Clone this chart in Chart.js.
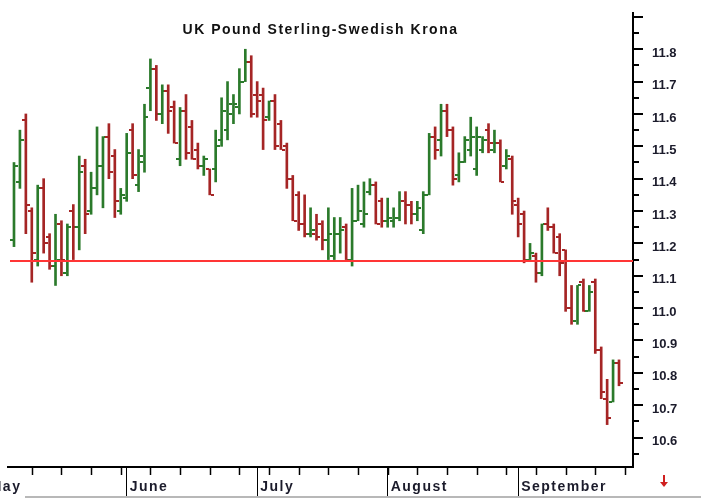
<!DOCTYPE html>
<html>
<head>
<meta charset="utf-8">
<script src="https://cdn.jsdelivr.net/npm/chart.js@4.4.1/dist/chart.umd.min.js"></script>
<style>
  html, body { margin: 0; padding: 0; background: #fff; }
  #wrap { width: 701px; height: 498px; }
</style>
</head>
<body>
<div id="wrap"><canvas id="fx" width="701" height="498"></canvas></div>
<script>
const chartTitle = 'UK Pound Sterling-Swedish Krona';

// daily OHLC, one entry per trading day
const opens = [
  11.21, 11.39, 11.58, 11.30, 11.15, 11.37, 11.22, 11.13, 11.26, 11.11,
  11.30, 11.25, 11.44, 11.30, 11.37, 11.44, 11.53, 11.47, 11.30, 11.34,
  11.55, 11.38, 11.45, 11.68, 11.74, 11.60, 11.67, 11.62, 11.46, 11.61,
  11.56, 11.49, 11.44, 11.43, 11.43, 11.52, 11.55, 11.60, 11.62, 11.70,
  11.76, 11.66, 11.66, 11.59, 11.64, 11.57, 11.50, 11.40, 11.35, 11.26,
  11.23, 11.23, 11.26, 11.21, 11.16, 11.23, 11.25, 11.15, 11.27, 11.26,
  11.36, 11.38, 11.33, 11.27, 11.27, 11.28, 11.33, 11.32, 11.29, 11.24,
  11.35, 11.53, 11.52, 11.61, 11.55, 11.41, 11.45, 11.49, 11.43, 11.49,
  11.55, 11.49, 11.51, 11.44, 11.46, 11.32, 11.29, 11.15, 11.16, 11.11,
  11.26, 11.25, 11.22, 11.18, 11.00, 10.96, 11.08, 10.99, 11.08, 10.87,
  10.72, 10.71, 10.83
];
const highs = [
  11.45, 11.55, 11.60, 11.31, 11.38, 11.40, 11.23, 11.29, 11.27, 11.26,
  11.32, 11.47, 11.46, 11.42, 11.56, 11.53, 11.57, 11.49, 11.37, 11.54,
  11.57, 11.49, 11.63, 11.77, 11.75, 11.69, 11.69, 11.64, 11.62, 11.66,
  11.58, 11.51, 11.47, 11.43, 11.55, 11.65, 11.70, 11.66, 11.74, 11.80,
  11.78, 11.70, 11.68, 11.64, 11.66, 11.58, 11.51, 11.41, 11.36, 11.35,
  11.31, 11.29, 11.27, 11.31, 11.28, 11.28, 11.26, 11.37, 11.38, 11.39,
  11.40, 11.39, 11.34, 11.34, 11.31, 11.36, 11.36, 11.33, 11.33, 11.36,
  11.54, 11.56, 11.63, 11.63, 11.56, 11.48, 11.53, 11.59, 11.56, 11.53,
  11.57, 11.55, 11.52, 11.49, 11.47, 11.34, 11.30, 11.20, 11.17, 11.26,
  11.31, 11.26, 11.23, 11.18, 11.07, 11.07, 11.09, 11.07, 11.09, 10.88,
  10.78, 10.84, 10.84
];
const lows = [
  11.19, 11.37, 11.23, 11.08, 11.13, 11.17, 11.12, 11.07, 11.10, 11.10,
  11.15, 11.18, 11.23, 11.29, 11.35, 11.31, 11.40, 11.28, 11.29, 11.33,
  11.40, 11.36, 11.42, 11.61, 11.58, 11.57, 11.54, 11.51, 11.44, 11.46,
  11.46, 11.43, 11.41, 11.35, 11.39, 11.50, 11.52, 11.57, 11.60, 11.70,
  11.59, 11.59, 11.49, 11.58, 11.49, 11.49, 11.37, 11.27, 11.24, 11.22,
  11.22, 11.21, 11.18, 11.15, 11.15, 11.17, 11.15, 11.13, 11.27, 11.25,
  11.35, 11.26, 11.25, 11.25, 11.25, 11.27, 11.26, 11.26, 11.27, 11.23,
  11.35, 11.46, 11.47, 11.53, 11.38, 11.39, 11.45, 11.47, 11.41, 11.48,
  11.48, 11.48, 11.39, 11.43, 11.29, 11.22, 11.14, 11.15, 11.08, 11.10,
  11.24, 11.17, 11.10, 10.99, 10.95, 10.95, 10.99, 10.99, 10.86, 10.72,
  10.64, 10.71, 10.76
];
const closes = [
  11.44, 11.52, 11.32, 11.17, 11.37, 11.20, 11.13, 11.15, 11.15, 11.25,
  11.25, 11.42, 11.29, 11.37, 11.44, 11.53, 11.42, 11.33, 11.35, 11.48,
  11.41, 11.47, 11.59, 11.74, 11.60, 11.67, 11.61, 11.51, 11.61, 11.48,
  11.46, 11.44, 11.46, 11.35, 11.50, 11.61, 11.63, 11.63, 11.70, 11.76,
  11.60, 11.64, 11.58, 11.64, 11.50, 11.49, 11.40, 11.27, 11.26, 11.23,
  11.24, 11.22, 11.21, 11.23, 11.23, 11.24, 11.15, 11.27, 11.30, 11.29,
  11.38, 11.26, 11.27, 11.28, 11.28, 11.33, 11.32, 11.29, 11.31, 11.35,
  11.53, 11.49, 11.61, 11.55, 11.40, 11.45, 11.52, 11.53, 11.53, 11.52,
  11.51, 11.51, 11.39, 11.47, 11.33, 11.26, 11.15, 11.17, 11.11, 11.26,
  11.25, 11.17, 11.14, 11.00, 10.96, 11.07, 10.99, 11.05, 10.87, 10.74,
  10.66, 10.83, 10.77
];

const refLevel = 11.145;

// month label positions, in trading-day index
const monthNames = ['May', 'June', 'July', 'August', 'September'];
const monthStarts = [-4.6, 19, 41, 63, 85];

const GREEN = '#2b7a2b';
const RED = '#a52525';
const INK = '#1b1b2b';

const idx = opens.map((_, i) => i);
const up = idx.map(i => closes[i] >= opens[i]);

const ohlcTicks = {
  id: 'ohlcTicks',
  beforeDatasetsDraw(chart) {
    chart.ctx.letterSpacing = '0px';
  },
  afterDatasetsDraw(chart) {
    const { ctx, chartArea, scales: { x, y } } = chart;
    ctx.save();
    idx.forEach(i => {
      const px = Math.round(x.getPixelForValue(i));
      ctx.fillStyle = up[i] ? GREEN : RED;
      ctx.fillRect(px - 4, Math.round(y.getPixelForValue(opens[i])) - 1, 3, 2);
      ctx.fillRect(px + 1, Math.round(y.getPixelForValue(closes[i])) - 1, 3, 2);
    });
    // horizontal reference line
    const ly = Math.round(y.getPixelForValue(refLevel));
    ctx.strokeStyle = '#ff3535';
    ctx.lineWidth = 2;
    ctx.beginPath();
    ctx.moveTo(chartArea.left + 2, ly);
    ctx.lineTo(chartArea.right, ly);
    ctx.stroke();
    ctx.restore();
    // month labels (x ticks drawn after the datasets) get wider spacing
    ctx.letterSpacing = '1.5px';
  }
};

const decor = {
  id: 'decor',
  afterDraw(chart) {
    const { ctx, chartArea, scales: { x, y } } = chart;
    ctx.save();
    // title
    ctx.letterSpacing = '1.5px';
    ctx.fillStyle = '#111';
    ctx.font = 'bold 14px "Liberation Sans", Arial, sans-serif';
    ctx.textAlign = 'center';
    ctx.textBaseline = 'middle';
    ctx.fillText(chartTitle, (chartArea.left + chartArea.right) / 2, 30);
    ctx.letterSpacing = '0px';

    // y axis ticks, every 0.05, longer ones on 0.1
    ctx.strokeStyle = '#000';
    ctx.lineWidth = 2;
    for (let k = 211; k <= 238; k++) {
      const v = k * 0.05;
      if (v < y.min || v > y.max) continue;
      const py = Math.round(y.getPixelForValue(v));
      ctx.beginPath();
      ctx.moveTo(chartArea.right, py);
      ctx.lineTo(chartArea.right + (k % 2 === 0 ? 10 : 6), py);
      ctx.stroke();
    }
    // weekly ticks on the time axis
    ctx.lineWidth = 1.5;
    for (let d = 3; d <= 103; d += 5) {
      const px = Math.round(x.getPixelForValue(d)) + 0.5;
      ctx.beginPath();
      ctx.moveTo(px, chartArea.bottom);
      ctx.lineTo(px, chartArea.bottom + 8);
      ctx.stroke();
    }
    // little red arrow at the lower right
    ctx.fillStyle = '#d02020';
    ctx.fillRect(663, 475, 2, 8);
    ctx.beginPath();
    ctx.moveTo(660, 482);
    ctx.lineTo(668, 482);
    ctx.lineTo(664, 487);
    ctx.closePath();
    ctx.fill();
    // bottom shadow
    ctx.fillStyle = '#b8b8b8';
    ctx.fillRect(25, 496, 676, 2);
    ctx.restore();
  }
};

new Chart(document.getElementById('fx'), {
  type: 'bar',
  data: {
    datasets: [{
      data: idx.map(i => ({ x: i, y: [lows[i], highs[i]] })),
      backgroundColor: idx.map(i => up[i] ? GREEN : RED),
      borderWidth: 0,
      barThickness: 2,
      grouped: false
    }]
  },
  options: {
    responsive: false,
    animation: false,
    devicePixelRatio: 1,
    layout: { padding: { left: 8, top: 13, right: 0, bottom: 0 } },
    plugins: { legend: { display: false }, tooltip: { enabled: false }, title: { display: false } },
    scales: {
      x: {
        type: 'linear',
        offset: false,
        min: -1.01,
        max: 104.36,
        afterBuildTicks: a => { a.ticks = monthStarts.map(v => ({ value: v })); },
        afterFit: a => { a.height = 31; a.paddingLeft = 0; a.paddingRight = 0; },
        ticks: {
          z: 1,
          autoSkip: false,
          maxRotation: 0,
          align: 'start',
          padding: -19,
          labelOffset: 3,
          color: INK,
          font: { family: 'Liberation Sans', weight: 'bold', size: 14 },
          callback: (v, i) => monthNames[i]
        },
        grid: { display: true, offset: false, drawOnChartArea: false, drawTicks: true, tickLength: 31, color: '#000', lineWidth: 1 },
        border: { display: true, color: '#000', width: 2 }
      },
      y: {
        position: 'right',
        min: 10.509,
        max: 11.912,
        afterFit: a => { a.width = 68; a.paddingTop = 0; a.paddingBottom = 0; },
        ticks: {
          stepSize: 0.1,
          includeBounds: false,
          padding: 19,
          labelOffset: 4,
          color: INK,
          font: { family: 'Liberation Sans', weight: 'bold', size: 13 },
          callback: v => (v > 11.85 ? '' : v.toFixed(1))
        },
        grid: { display: false, drawTicks: false },
        border: { display: true, color: '#000', width: 2 }
      }
    }
  },
  plugins: [ohlcTicks, decor]
});
</script>
</body>
</html>
